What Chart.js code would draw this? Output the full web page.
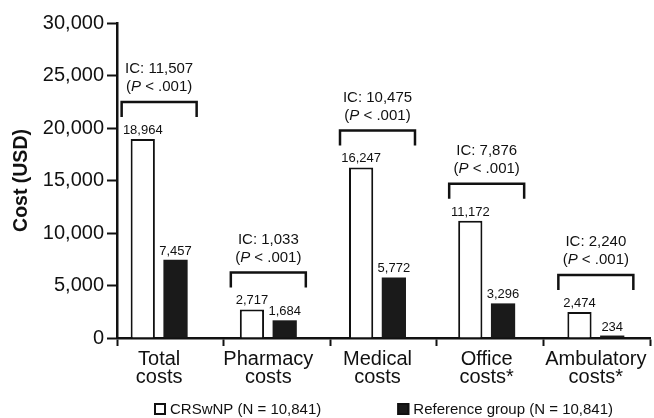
<!DOCTYPE html>
<html lang="en">
<head>
  <meta charset="UTF-8">
  <title>CRSwNP costs vs reference group</title>
  <script src="https://cdn.jsdelivr.net/npm/chart.js"></script>
  <style>
    html, body { margin: 0; padding: 0; background: #fff; }
    .chart-container { width: 654px; height: 418px; }
  </style>
</head>
<body>
  <div class="chart-container">
    <canvas id="costChart"></canvas>
  </div>

  <script>
    // values
    const categories = [['Total', 'costs'], ['Pharmacy', 'costs'], ['Medical', 'costs'], ['Office', 'costs*'], ['Ambulatory', 'costs*']];
    const crswnpCosts = [18964, 2717, 16247, 11172, 2474];
    const referenceCosts = [7457, 1684, 5772, 3296, 234];
    const incrementalCosts = [11507, 1033, 10475, 7876, 2240];
    const pLabels = ['.001', '.001', '.001', '.001', '.001'];
    const yTicks = [0, 5000, 10000, 15000, 20000, 25000, 30000];
    const seriesLabels = ['CRSwNP (N = 10,841)', 'Reference group (N = 10,841)'];

    const FONT = '"Liberation Sans", Arial, Helvetica, sans-serif';
    const INK = '#111';

    // x range in "category units" - bars sit on the integers
    const xMin = -0.386;
    const xMax = 4.496;

    Chart.defaults.font.family = FONT;
    Chart.defaults.color = INK;

    const fmt = v => v.toLocaleString('en-US');

    // value labels, IC brackets
    const annotate = {
      id: 'annotate',
      afterDatasetsDraw(chart) {
        const ctx = chart.ctx;
        const white = chart.getDatasetMeta(0).data;
        const black = chart.getDatasetMeta(1).data;
        ctx.save();
        ctx.fillStyle = INK;
        ctx.strokeStyle = INK;
        ctx.textAlign = 'center';
        ctx.textBaseline = 'alphabetic';
        ctx.font = '13px ' + FONT;
        [white, black].forEach((bars, d) => {
          bars.forEach((bar, i) => {
            ctx.fillText(fmt(chart.data.datasets[d].data[i].y), bar.x, bar.y - 5);
          });
        });

        white.forEach((bar, i) => {
          const other = black[i];
          const left = bar.x - bar.width / 2 - 9;
          const right = other.x + other.width / 2 + 9;
          const top = Math.min(bar.y, other.y);
          const legY = top - 22;
          const lineY = top - 37;
          ctx.lineWidth = 2.5;
          ctx.lineCap = 'butt';
          ctx.lineJoin = 'miter';
          ctx.beginPath();
          ctx.moveTo(left, legY);
          ctx.lineTo(left, lineY);
          ctx.lineTo(right, lineY);
          ctx.lineTo(right, legY);
          ctx.stroke();

          const cx = (left + right) / 2;
          ctx.textBaseline = 'middle';
          ctx.textAlign = 'center';
          ctx.font = '15px ' + FONT;
          ctx.fillText('IC: ' + fmt(incrementalCosts[i]), cx, lineY - 33);

          // (P < .001) with italic P
          const parts = [['(', ''], ['P', 'italic '], [' < ' + pLabels[i] + ')', '']];
          let w = 0;
          parts.forEach(p => { ctx.font = p[1] + '15px ' + FONT; w += ctx.measureText(p[0]).width; });
          let x = cx - w / 2;
          ctx.textAlign = 'left';
          parts.forEach(p => {
            ctx.font = p[1] + '15px ' + FONT;
            ctx.fillText(p[0], x, lineY - 15);
            x += ctx.measureText(p[0]).width;
          });
        });
        ctx.restore();
      }
    };

    // legend under the axis labels
    const bottomLegend = {
      id: 'bottomLegend',
      afterDraw(chart) {
        const ctx = chart.ctx;
        const area = chart.chartArea;
        const box = 12, textGap = 4, itemGap = 76;
        ctx.save();
        ctx.font = '15px ' + FONT;
        const items = chart.data.datasets.map(ds => ({
          label: ds.label, fill: ds.backgroundColor, width: ctx.measureText(ds.label).width
        }));
        const total = items.reduce((s, it) => s + box + textGap + it.width, 0) + itemGap * (items.length - 1);
        let x = (area.left + area.right) / 2 - total / 2;
        const y = chart.height - 9;
        ctx.textBaseline = 'middle';
        ctx.textAlign = 'left';
        items.forEach(it => {
          ctx.fillStyle = it.fill;
          ctx.fillRect(x, y - box / 2, box, box);
          ctx.lineWidth = 2;
          ctx.strokeStyle = INK;
          ctx.strokeRect(x + 1, y - box / 2 + 1, box - 2, box - 2);
          ctx.fillStyle = INK;
          ctx.fillText(it.label, x + box + textGap, y + 1);
          x += box + textGap + it.width + itemGap;
        });
        ctx.restore();
      }
    };

    const ctx = document.getElementById('costChart').getContext('2d');
    new Chart(ctx, {
      type: 'bar',
      data: {
        datasets: [
          {
            label: seriesLabels[0],
            data: crswnpCosts.map((v, i) => ({ x: i, y: v })),
            backgroundColor: '#ffffff',
            borderColor: INK,
            borderWidth: 2,
            xAxisID: 'x',
            categoryPercentage: 0.6,
            barPercentage: 0.74
          },
          {
            label: seriesLabels[1],
            data: referenceCosts.map((v, i) => ({ x: i, y: v })),
            backgroundColor: '#1a1a1a',
            borderColor: '#1a1a1a',
            borderWidth: 0,
            xAxisID: 'x',
            categoryPercentage: 0.6,
            barPercentage: 0.74
          }
        ]
      },
      options: {
        responsive: true,
        maintainAspectRatio: false,
        animation: false,
        layout: { padding: { top: 23, right: 2, bottom: 28, left: 0 } },
        plugins: {
          legend: { display: false },
          tooltip: { enabled: false }
        },
        scales: {
          // bar positions
          x: {
            type: 'linear',
            display: false,
            min: xMin,
            max: xMax,
            offset: false,
            grid: { offset: false },
            afterBuildTicks: scale => {
              scale.ticks = categories.map((c, i) => ({ value: i }));
            }
          },
          // drawn axis: tick marks between the five slots, labels under the bars
          xAxis: {
            type: 'linear',
            position: 'bottom',
            min: xMin,
            max: xMax,
            offset: false,
            border: { display: true, color: INK, width: 2.5 },
            grid: {
              offset: false,
              drawOnChartArea: false,
              drawTicks: true,
              tickLength: 8,
              tickWidth: 2,
              tickColor: c => (c.tick && Number.isInteger(c.tick.value)) ? 'rgba(0,0,0,0)' : INK
            },
            ticks: {
              autoSkip: false,
              maxRotation: 0,
              minRotation: 0,
              padding: 4,
              color: INK,
              font: { size: 20, lineHeight: 0.9 },
              callback: value => Number.isInteger(value) ? categories[value] : ''
            },
            afterBuildTicks: scale => {
              const n = categories.length;
              const ticks = [];
              for (let k = 0; k <= n; k++) ticks.push({ value: xMin + k * (xMax - xMin) / n });
              categories.forEach((c, i) => ticks.push({ value: i }));
              ticks.sort((a, b) => a.value - b.value);
              scale.ticks = ticks;
            },
            afterFit: scale => { scale.height = 52; }
          },
          y: {
            min: yTicks[0],
            max: yTicks[yTicks.length - 1],
            border: { display: true, color: INK, width: 2.5 },
            grid: {
              drawOnChartArea: false,
              tickLength: 10,
              tickWidth: 2,
              tickColor: INK
            },
            ticks: {
              padding: 3,
              color: INK,
              font: { size: 20 },
              callback: v => fmt(v)
            },
            afterBuildTicks: scale => {
              scale.ticks = yTicks.map(v => ({ value: v }));
            },
            title: {
              display: true,
              text: 'Cost (USD)',
              color: INK,
              font: { size: 19.5, weight: 'bold' },
              padding: { top: 10, bottom: 0 }
            },
            afterFit: scale => { scale.width = 117; }
          }
        }
      },
      plugins: [annotate, bottomLegend]
    });
  </script>
</body>
</html>
